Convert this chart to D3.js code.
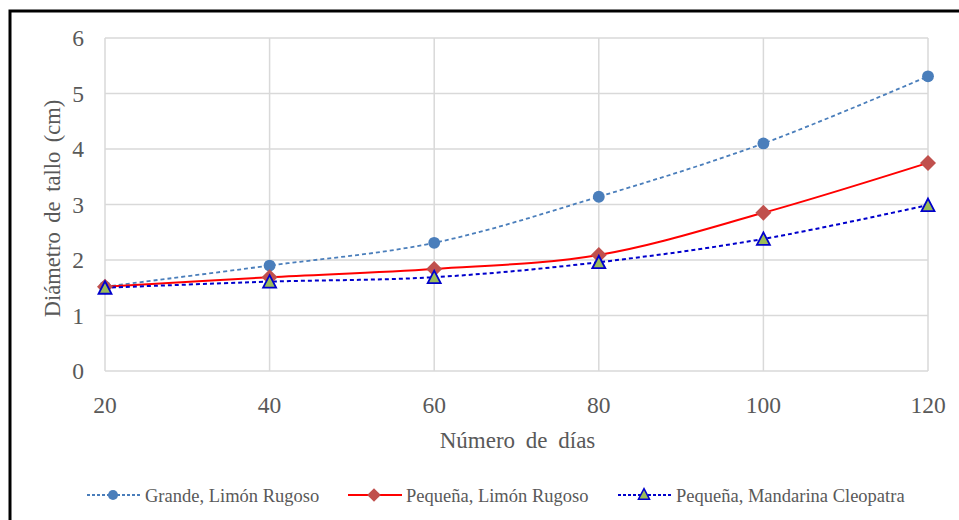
<!DOCTYPE html>
<html lang="es">
<head>
  <meta charset="UTF-8">
  <title>Diámetro de tallo</title>
  <script src="https://d3js.org/d3.v7.min.js"></script>
  <style>
    body { margin: 0; background: #fff; }
    svg text { font-family: 'Liberation Serif', 'Times New Roman', Times, serif; fill: #595959; }
  </style>
</head>
<body>
  <div id="chart"></div>
  <script>
    const dias = [20, 40, 60, 80, 100, 120]
    const grande = [1.52, 1.9, 2.31, 3.14, 4.1, 5.31]
    const pequenaLimon = [1.52, 1.69, 1.84, 2.09, 2.85, 3.75]
    const pequenaMandarina = [1.5, 1.61, 1.69, 1.96, 2.38, 2.99]
    const yTicks = [0, 1, 2, 3, 4, 5, 6]
    const seriesNames = ['Grande, Limón Rugoso', 'Pequeña, Limón Rugoso', 'Pequeña, Mandarina Cleopatra']

    const width = 959, height = 520
    const svg = d3.select('#chart').append('svg')
      .attr('width', width)
      .attr('height', height)
      .attr('font-family', 'Liberation Serif')

    // outer frame (cut by the picture on right and bottom)
    svg.append('rect')
      .attr('x', 10).attr('y', 11)
      .attr('width', 980).attr('height', 540)
      .attr('fill', 'none').attr('stroke', '#000').attr('stroke-width', 3)

    const x = d3.scaleLinear().domain([20, 120]).range([105, 928])
    const y = d3.scaleLinear().domain([0, 6]).range([371, 38])

    // grid
    svg.append('g').selectAll('line').data(yTicks).enter().append('line')
      .attr('x1', x(20)).attr('x2', x(120))
      .attr('y1', d => y(d)).attr('y2', d => y(d))
      .attr('stroke', '#d9d9d9').attr('stroke-width', 1.5)
    svg.append('g').selectAll('line').data(dias).enter().append('line')
      .attr('x1', d => x(d)).attr('x2', d => x(d))
      .attr('y1', y(0)).attr('y2', y(6))
      .attr('stroke', '#d9d9d9').attr('stroke-width', 1.5)

    // tick labels
    svg.append('g').selectAll('text').data(yTicks).enter().append('text')
      .attr('x', 84).attr('y', d => y(d) + 8)
      .attr('text-anchor', 'end')
      .style('font-size', '23.5px')
      .text(d => d)
    svg.append('g').selectAll('text').data(dias).enter().append('text')
      .attr('x', d => x(d)).attr('y', 413)
      .attr('text-anchor', 'middle')
      .style('font-size', '23.5px')
      .text(d => d)

    // axis titles
    svg.append('text')
      .attr('x', x(70) + 1).attr('y', 448)
      .attr('text-anchor', 'middle')
      .style('font-size', '23px').style('word-spacing', '5px')
      .text('Número de días')
    svg.append('text')
      .attr('transform', `translate(60, ${y(3) + 4}) rotate(-90)`)
      .attr('text-anchor', 'middle')
      .style('font-size', '22.5px').style('word-spacing', '4px')
      .text('Diámetro de tallo (cm)')

    const series = [
      { name: seriesNames[0], values: grande, stroke: '#4a7ebb', dash: '4,3', width: 1.8, marker: 'circle', fill: '#4a7ebb', mstroke: '#4a7ebb' },
      { name: seriesNames[1], values: pequenaLimon, stroke: '#ff0000', dash: null, width: 2, marker: 'diamond', fill: '#c0504d', mstroke: '#c0504d' },
      { name: seriesNames[2], values: pequenaMandarina, stroke: '#0000cc', dash: '4,3', width: 2, marker: 'triangle', fill: '#9bbb59', mstroke: '#0000cc' }
    ]

    const line = d3.line()
      .x((d, i) => x(dias[i]))
      .y(d => y(d))
      .curve(d3.curveCatmullRom.alpha(0.5))

    function markerPath(type) {
      if (type === 'circle') return d3.symbol().type(d3.symbolCircle).size(110)()
      if (type === 'diamond') return 'M0,-8L8,0L0,8L-8,0Z'
      return 'M0,-7.5L6.5,5L-6.5,5Z'
    }

    series.forEach(s => {
      svg.append('path')
        .attr('d', line(s.values))
        .attr('fill', 'none')
        .attr('stroke', s.stroke)
        .attr('stroke-width', s.width)
        .attr('stroke-dasharray', s.dash)
    })
    series.forEach(s => {
      svg.append('g').selectAll('path').data(s.values).enter().append('path')
        .attr('transform', (d, i) => `translate(${x(dias[i])}, ${y(d) + (s.marker === 'triangle' ? 1 : 0)})`)
        .attr('d', markerPath(s.marker))
        .attr('fill', s.fill)
        .attr('stroke', s.mstroke)
        .attr('stroke-width', s.marker === 'triangle' ? 1.8 : 0)
    })

    // legend
    const legendX = [87, 348, 618]
    const legend = svg.append('g').selectAll('g').data(series).enter().append('g')
      .attr('transform', (d, i) => `translate(${legendX[i]}, 495)`)
    legend.append('line')
      .attr('x1', 0).attr('x2', 54)
      .attr('stroke', d => d.stroke)
      .attr('stroke-width', d => d.width)
      .attr('stroke-dasharray', d => d.dash ? '3,2' : null)
    legend.append('path')
      .attr('transform', 'translate(26, 0) scale(0.85)')
      .attr('d', d => markerPath(d.marker))
      .attr('fill', d => d.fill)
      .attr('stroke', d => d.mstroke)
      .attr('stroke-width', d => d.marker === 'triangle' ? 1.8 : 0)
    legend.append('text')
      .attr('x', 58).attr('y', 6.5)
      .style('font-size', '18.5px')
      .text(d => d.name)
  </script>
</body>
</html>
